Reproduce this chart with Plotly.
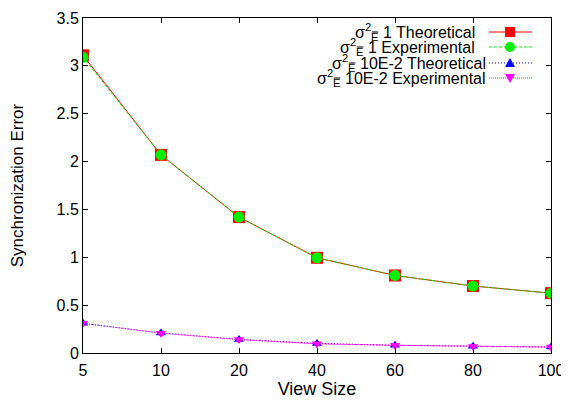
import plotly.graph_objects as go

view_sizes = ["5", "10", "20", "40", "60", "80", "100"]
theo_1 = [3.11, 2.07, 1.42, 0.995, 0.81, 0.70, 0.625]
exp_1 = [3.09, 2.07, 1.42, 0.995, 0.81, 0.70, 0.625]
theo_2 = [0.31, 0.21, 0.142, 0.10, 0.081, 0.07, 0.062]
exp_2 = [0.31, 0.207, 0.14, 0.097, 0.08, 0.069, 0.062]
y_ticks = [0, 0.5, 1, 1.5, 2, 2.5, 3, 3.5]
y_ticktext = ["0", "0.5", "1", "1.5", "2", "2.5", "3", "3.5"]

sig = "σ<sup>2</sup><sub>E̿</sub>"
names = [sig + " 1 Theoretical", sig + " 1 Experimental",
         sig + " 10E-2 Theoretical", sig + " 10E-2 Experimental"]
series = [theo_1, exp_1, theo_2, exp_2]
colors = ["#ff0000", "#00ee00", "#0000ff", "#ff00ff"]
dashes = ["solid", "3px,2px", "1px,2px", "1px,1px"]
symbols = ["square", "circle", "triangle-up", "triangle-down"]
msizes = [12, 11, 9, 9]

FONT = "Liberation Sans, Arial, sans-serif"
fig = go.Figure()
for n, ys, c, d, s, ms in zip(names, series, colors, dashes, symbols, msizes):
    fig.add_trace(go.Scatter(x=view_sizes, y=ys, name=n, mode="lines+markers",
                             line=dict(color=c, width=1, dash=d),
                             marker=dict(symbol=s, size=ms, color=c, line=dict(width=0)),
                             showlegend=False))

# page has an 8px body margin; size the figure so the plot lands where the reference has it
OFF = 8
W, H = 569 - OFF, 401 - OFF
ml, mr, mt, mb = 83 - OFF, 18, 18 - OFF, 48
pw, ph = W - ml - mr, H - mt - mb
def px(x):
    return (x - OFF - ml) / pw
def py(y):
    return 1 - (y - OFF - mt) / ph

# custom gnuplot-style legend (text right, key sample on right), page pixel positions
rows = [32, 47, 63, 78]
text_right = [477, 477, 488, 488]
k0, k1, kc = 489, 532, 510
for i, (n, c, d, s) in enumerate(zip(names, colors, dashes, symbols)):
    y = rows[i]
    fig.add_annotation(x=px(text_right[i]), y=py(y), xref="paper", yref="paper",
                       text=n, showarrow=False, xanchor="right", yanchor="middle",
                       font=dict(family=FONT, size=16, color="black"))
    fig.add_shape(type="line", xref="paper", yref="paper",
                  x0=px(k0), x1=px(k1), y0=py(y), y1=py(y),
                  line=dict(color=c, width=1, dash=d))
    if s == "square":
        fig.add_shape(type="rect", xref="paper", yref="paper",
                      x0=px(kc - 5), x1=px(kc + 5), y0=py(y - 5), y1=py(y + 5),
                      fillcolor=c, line=dict(width=0))
    elif s == "circle":
        fig.add_shape(type="circle", xref="paper", yref="paper",
                      x0=px(kc - 5), x1=px(kc + 5), y0=py(y - 5), y1=py(y + 5),
                      fillcolor=c, line=dict(width=0))
    elif s == "triangle-up":
        fig.add_shape(type="path", xref="paper", yref="paper",
                      path=f"M {px(kc-5)} {py(y+4)} L {px(kc+5)} {py(y+4)} L {px(kc)} {py(y-5)} Z",
                      fillcolor=c, line=dict(width=0))
    else:
        fig.add_shape(type="path", xref="paper", yref="paper",
                      path=f"M {px(kc-5)} {py(y-4)} L {px(kc+5)} {py(y-4)} L {px(kc)} {py(y+5)} Z",
                      fillcolor=c, line=dict(width=0))

axis_common = dict(showline=True, linecolor="black", linewidth=1, mirror="ticks",
                   ticks="inside", ticklen=5, tickcolor="black", showgrid=False,
                   zeroline=False, automargin=False,
                   tickfont=dict(family=FONT, size=16, color="black"))
fig.update_xaxes(type="category", range=[0, 6], ticklabelstandoff=3,
                 title=dict(text="View Size",
                            font=dict(family=FONT, size=18, color="black"), standoff=4),
                 **axis_common)
fig.update_yaxes(range=[0, 3.5], tickvals=y_ticks, ticktext=y_ticktext,
                 title=dict(text="Synchronization Error",
                            font=dict(family=FONT, size=17, color="black"), standoff=36),
                 **axis_common)
fig.update_layout(width=W, height=H, margin=dict(l=ml, r=mr, t=mt, b=mb),
                  plot_bgcolor="white", paper_bgcolor="white",
                  font=dict(family=FONT, color="black"))
fig.write_html("out.html")
